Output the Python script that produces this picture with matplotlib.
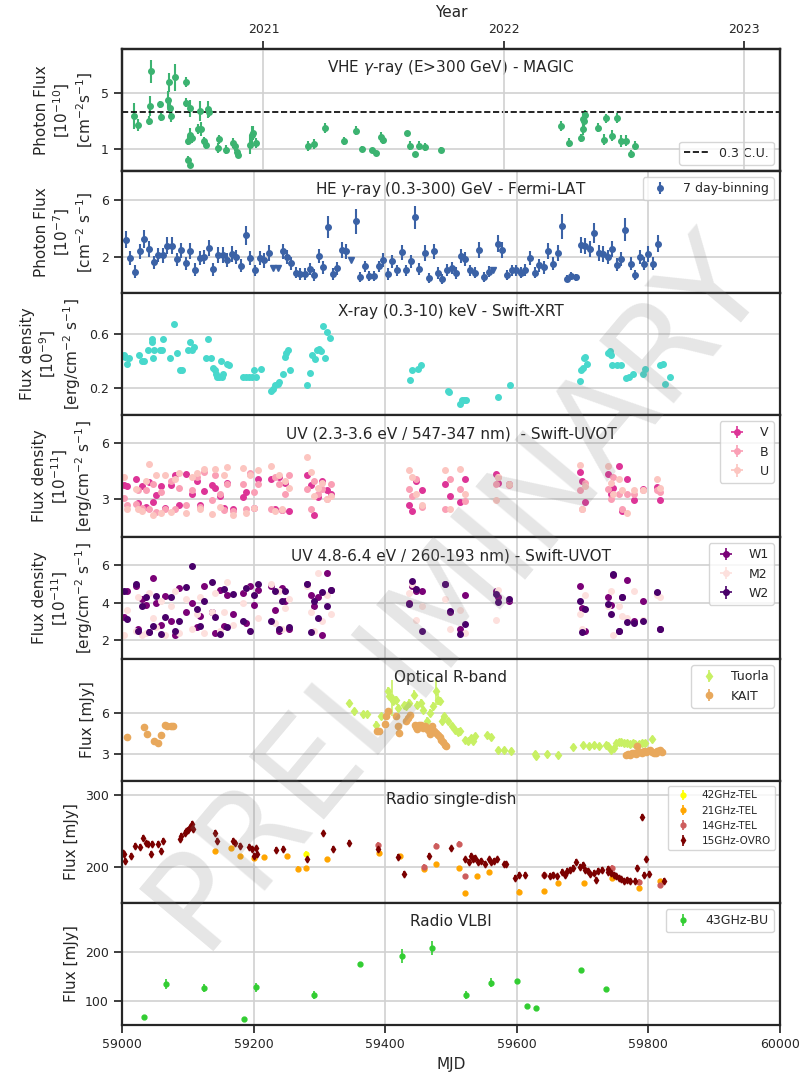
import matplotlib
matplotlib.use('Agg')
import matplotlib.pyplot as plt

# ---------------- DATA ----------------
# MAGIC (VHE)
magic_mjd = [59018, 59025, 59041, 59043, 59044, 59058, 59060, 59070, 59072, 59073,
             59074, 59080, 59097, 59098, 59104, 59100, 59101, 59103, 59103.5, 59107,
             59115, 59118, 59120, 59125, 59128, 59130, 59132, 59146, 59148, 59158,
             59169, 59172, 59175, 59177, 59195, 59197, 59199, 59204, 59282, 59292,
             59308, 59338, 59356, 59365, 59380, 59386, 59394, 59397, 59433, 59438,
             59446, 59452, 59461, 59485, 59667, 59679, 59698, 59700, 59701, 59702,
             59704, 59724, 59732, 59736, 59745, 59752, 59759, 59766, 59774, 59780]
magic_flux = [3.32, 2.68, 3.0, 4.04, 6.5, 4.16, 3.25, 4.5, 5.72, 3.92,
              3.32, 6.08, 5.77, 4.28, 3.87, 1.57, 0.21, -0.15, 1.96, 1.77,
              2.41, 3.68, 2.37, 1.53, 1.29, 3.8, 3.63, 1.05, 1.65, 0.93,
              1.41, 1.17, 0.76, 0.57, 1.29, 2.0, 2.13, 1.41, 1.17, 1.34,
              2.49, 1.53, 2.29, 1.0, 0.88, 0.67, 1.81, 1.62, 2.1, 1.22,
              0.63, 1.22, 1.1, 0.88, 2.63, 1.42, 1.74, 2.38, 3.11, 2.96,
              3.4, 2.5, 1.63, 3.16, 1.92, 3.16, 1.55, 1.55, 0.62, 1.22]
magic_err = [0.95, 0.45, 0.35, 0.7, 0.8, 0.25, 0.3, 0.6, 0.65, 0.45,
             0.45, 0.95, 0.35, 0.3, 0.6, 0.3, 0.25, 0.2, 0.5, 0.35,
             0.35, 0.7, 0.5, 0.3, 0.3, 0.6, 0.35, 0.35, 0.3, 0.35,
             0.35, 0.35, 0.35, 0.25, 0.7, 0.6, 0.5, 0.35, 0.35, 0.35,
             0.35, 0.3, 0.3, 0.15, 0.15, 0.15, 0.35, 0.3, 0.15, 0.35,
             0.15, 0.3, 0.3, 0.2, 0.35, 0.3, 0.3, 0.4, 0.4, 0.5,
             0.35, 0.35, 0.4, 0.3, 0.4, 0.35, 0.45, 0.4, 0.3, 0.35]
cu03_level = 3.6

# Fermi-LAT (HE)
fermi_mjd = [59006, 59012, 59020, 59027, 59034, 59041, 59048, 59055, 59062, 59069,
             59076, 59083, 59090, 59097, 59104, 59111, 59118, 59125, 59132, 59139,
             59146, 59153, 59160, 59167, 59174, 59181, 59188, 59195, 59202, 59209,
             59216, 59223,
             59244, 59250, 59257, 59264, 59271, 59278, 59285, 59292, 59299, 59306,
             59313, 59320, 59327, 59334, 59341,
             59355, 59362, 59369, 59376, 59383, 59390, 59397, 59404, 59411, 59418,
             59425, 59432, 59439, 59446, 59452, 59460, 59467, 59474, 59481, 59487,
             59494, 59501, 59508, 59515, 59522, 59529, 59536, 59543, 59550, 59557,
             59571, 59578, 59585, 59592, 59599, 59606, 59613, 59620, 59627, 59634,
             59641, 59648, 59655, 59662, 59668, 59676, 59683, 59690, 59697, 59703,
             59711, 59718, 59725, 59731, 59738, 59745, 59752, 59759, 59765, 59773,
             59780, 59787, 59793, 59800, 59807, 59814]
fermi_flux = [3.21, 1.93, 1.0, 2.4, 3.26, 2.56, 1.63, 2.16, 2.12, 2.79,
              2.79, 1.86, 2.47, 1.58, 2.44, 1.12, 1.93, 2.0, 2.63, 1.16,
              2.16, 2.16, 1.81, 2.23, 2.0, 1.4, 3.51, 1.93, 1.07, 1.93,
              1.77, 2.28,
              2.4, 2.0, 1.58, 0.93, 0.84, 0.84, 1.16, 0.77, 2.09, 1.3,
              4.09, 0.84, 1.23, 2.51, 2.4,
              4.49, 0.6, 1.35, 0.7, 0.7, 1.35, 1.81, 0.84, 1.7, 1.07,
              2.33, 1.07, 1.7, 4.77, 1.16, 2.28, 0.53, 2.4, 0.88, 0.5,
              1.12, 1.23, 0.88, 2.09, 1.86, 1.07, 0.93, 2.51, 0.6, 1.0,
              2.93, 2.51, 0.77, 1.07, 1.07, 0.93, 1.12, 1.93, 0.93, 1.42,
              1.28, 2.44, 1.53, 2.28, 4.14, 0.49, 0.7, 0.6, 2.86, 2.79,
              2.56, 3.67, 2.28, 2.23, 2.0, 2.56, 1.47, 1.86, 3.91, 1.53,
              0.77, 2.0, 1.53, 2.23, 1.53, 2.93]
fermi_err = [0.6, 0.5, 0.45, 0.55, 0.65, 0.55, 0.45, 0.5, 0.5, 0.6,
             0.6, 0.45, 0.55, 0.45, 0.55, 0.45, 0.5, 0.5, 0.55, 0.45,
             0.55, 0.55, 0.5, 0.55, 0.5, 0.45, 0.65, 0.5, 0.4, 0.5,
             0.5, 0.55,
             0.55, 0.5, 0.45, 0.4, 0.4, 0.4, 0.4, 0.4, 0.5, 0.45,
             0.75, 0.4, 0.45, 0.55, 0.55,
             0.85, 0.35, 0.4, 0.35, 0.35, 0.4, 0.5, 0.4, 0.45, 0.4,
             0.55, 0.4, 0.45, 0.8, 0.4, 0.55, 0.35, 0.55, 0.4, 0.35,
             0.4, 0.4, 0.4, 0.5, 0.5, 0.4, 0.4, 0.55, 0.35, 0.4,
             0.6, 0.55, 0.35, 0.4, 0.4, 0.4, 0.4, 0.5, 0.4, 0.45,
             0.45, 0.55, 0.45, 0.55, 0.85, 0.25, 0.3, 0.25, 0.55, 0.55,
             0.55, 0.7, 0.55, 0.55, 0.5, 0.55, 0.45, 0.5, 0.8, 0.45,
             0.35, 0.5, 0.45, 0.55, 0.45, 0.6]
fermi_ul_mjd = [59229, 59237, 59348, 59564]
fermi_ul_flux = [1.25, 1.25, 1.83, 1.1]

# Swift-XRT
xrt_mjd = [59003, 59005, 59008, 59010, 59026, 59031, 59033, 59039, 59045, 59046,
           59047, 59048, 59057, 59061, 59063, 59073, 59079, 59083, 59088, 59091,
           59101, 59104, 59107, 59110, 59128, 59130, 59136, 59139, 59141, 59143,
           59145, 59147, 59150, 59152, 59154, 59160, 59163, 59184, 59188, 59193,
           59197, 59200, 59203, 59211, 59226, 59229, 59233, 59237, 59239, 59245,
           59247, 59249, 59252, 59255, 59281, 59285, 59289, 59293, 59297, 59300,
           59303, 59306, 59309, 59312, 59316, 59438, 59441, 59450, 59454, 59495,
           59497, 59514, 59516, 59520, 59523, 59572, 59590, 59696, 59698, 59700,
           59702, 59704, 59706, 59739, 59741, 59743, 59745, 59752, 59759, 59766,
           59771, 59777, 59792, 59795, 59818, 59822, 59825, 59833]
xrt_flux = [0.44, 0.43, 0.38, 0.42, 0.44, 0.40, 0.40, 0.48, 0.54, 0.56,
            0.42, 0.48, 0.48, 0.48, 0.56, 0.42, 0.67, 0.46, 0.33, 0.33,
            0.48, 0.54, 0.48, 0.50, 0.42, 0.56, 0.42, 0.35, 0.33, 0.30,
            0.28, 0.28, 0.40, 0.28, 0.30, 0.38, 0.37, 0.28, 0.28, 0.28,
            0.28, 0.33, 0.28, 0.34, 0.18, 0.19, 0.22, 0.23, 0.24, 0.30,
            0.43, 0.46, 0.48, 0.33, 0.22, 0.31, 0.44, 0.41, 0.48, 0.49,
            0.47, 0.66, 0.42, 0.61, 0.57, 0.26, 0.33, 0.34, 0.37, 0.18,
            0.17, 0.08, 0.11, 0.11, 0.11, 0.13, 0.22, 0.25, 0.33, 0.35,
            0.42, 0.43, 0.38, 0.46, 0.47, 0.44, 0.37, 0.37, 0.37, 0.27,
            0.28, 0.30, 0.30, 0.34, 0.37, 0.38, 0.23, 0.28]

# Swift-UVOT epochs
uvot_mjd = [59003, 59008, 59021, 59024, 59030, 59036, 59041, 59047, 59052, 59059,
            59065, 59074, 59081, 59087, 59098, 59106, 59114, 59119, 59125, 59137,
            59141, 59149, 59155, 59160, 59168, 59184, 59189, 59195, 59201, 59207,
            59226, 59233, 59238, 59243, 59248, 59254, 59281, 59287, 59292, 59298,
            59304, 59312, 59318, 59436, 59441, 59447, 59456, 59491, 59498, 59514,
            59521, 59568, 59572, 59588, 59696, 59699, 59703, 59739, 59743, 59746,
            59755, 59760, 59767, 59778, 59792, 59813, 59818]
V_flux = [3.75, 3.7, 4.1, 2.8, 3.7, 2.6, 3.92, 2.85, 3.25, 3.7,
          2.55, 3.75, 4.3, 2.7, 4.37, 3.3, 4.0, 2.72, 3.45, 3.75,
          3.6, 3.2, 2.54, 3.9, 2.5, 3.12, 3.39, 4.37, 2.55, 4.1,
          4.1, 2.5, 4.2, 2.45, 3.9, 2.4, 4.28, 3.75, 2.18, 3.12,
          4.0, 3.5, 3.3, 2.68, 2.41, 4.01, 3.5, 3.83, 3.21, 2.86,
          4.1, 4.37, 3.9, 3.83, 4.46, 4.01, 2.86, 4.37, 3.3, 3.6,
          4.81, 2.41, 4.1, 2.95, 3.55, 3.66, 2.95]
B_flux = [3.1, 2.7, 2.77, 3.5, 2.54, 3.48, 2.5, 3.8, 2.33, 3.4,
          2.5, 4.0, 2.5, 3.6, 2.7, 3.48, 4.2, 2.6, 4.45, 2.95,
          4.3, 3.3, 2.45, 3.83, 2.4, 3.83, 2.5, 4.4, 3.4, 3.83,
          2.5, 4.2, 3.83, 2.45, 3.3, 4.3, 3.57, 2.5, 4.0, 3.3,
          3.57, 3.0, 3.8, 3.57, 3.2, 4.1, 2.6, 2.5, 4.1, 3.57,
          2.9, 3.83, 4.2, 3.75, 3.48, 2.5, 3.9, 3.57, 3.0, 4.2,
          3.3, 2.5, 3.3, 3.3, 3.48, 3.48, 3.4]
U_flux = [4.2, 2.5, 3.57, 2.5, 2.41, 4.0, 4.9, 2.15, 4.31, 2.3,
          4.28, 2.33, 4.1, 4.4, 2.3, 4.2, 4.4, 2.5, 4.63, 2.25,
          4.6, 2.6, 4.3, 4.72, 2.2, 4.67, 2.3, 4.28, 2.55, 4.55,
          4.78, 2.4, 4.3, 2.5, 4.0, 3.6, 5.25, 4.45, 3.2, 3.6,
          3.9, 3.0, 3.2, 4.55, 4.19, 3.3, 2.7, 4.55, 2.5, 4.63,
          3.3, 2.95, 4.2, 3.8, 4.85, 2.5, 3.7, 4.81, 3.9, 3.3,
          4.1, 3.48, 2.3, 3.48, 3.48, 4.1, 3.6]
W1_flux = [3.22, 4.6, 4.9, 2.6, 4.2, 3.9, 2.45, 5.3, 4.0, 2.8,
           4.35, 3.0, 2.3, 4.8, 3.5, 4.0, 2.7, 3.3, 4.9, 3.5,
           2.4, 4.7, 2.75, 4.4, 3.4, 4.5, 2.9, 4.9, 3.9, 4.7,
           4.9, 3.6, 2.5, 4.8, 4.1, 2.6, 5.0, 4.4, 3.8, 4.3,
           2.3, 5.6, 4.7, 4.0, 4.9, 4.6, 4.6, 5.0, 3.5, 2.6,
           4.4, 4.6, 4.3, 4.1, 4.9, 3.7, 2.5, 4.3, 3.9, 5.5,
           2.5, 4.3, 5.2, 3.0, 4.1, 4.5, 2.6]
M2_flux = [2.3, 3.6, 2.5, 4.3, 2.3, 2.4, 4.5, 3.2, 2.7, 4.1,
           2.3, 3.8, 4.6, 2.4, 4.2, 2.6, 3.4, 4.3, 2.4, 3.5,
           4.5, 2.5, 3.5, 5.1, 2.8, 4.0, 4.8, 2.5, 4.4, 3.2,
           5.0, 2.9, 4.6, 2.6, 3.7, 4.2, 4.9, 3.5, 2.5, 5.6,
           3.0, 4.4, 3.4, 4.5, 5.0, 3.1, 3.8, 4.2, 2.6, 3.6,
           2.4, 3.1, 4.7, 4.2, 3.4, 2.6, 4.4, 3.8, 4.6, 2.3,
           3.8, 3.3, 3.2, 4.6, 3.1, 4.4, 4.3]
W2_flux = [4.64, 3.13, 5.0, 2.51, 3.84, 4.28, 2.42, 2.78, 4.37, 2.34,
           3.22, 4.28, 2.51, 3.04, 4.85, 5.96, 3.66, 2.78, 4.1, 5.08,
           3.22, 2.34, 4.73, 2.69, 4.46, 3.04, 4.81, 2.51, 4.4, 5.0,
           3.04, 4.6, 2.6, 4.1, 4.6, 2.7, 5.0, 2.42, 4.1, 3.2,
           4.55, 3.8, 4.7, 3.93, 5.17, 4.73, 2.51, 5.0, 3.58, 2.34,
           2.87, 4.46, 4.02, 4.2, 4.1, 2.42, 3.66, 3.93, 3.4, 5.52,
           2.51, 4.28, 2.96, 2.9, 3.0, 4.55, 2.6]

# Optical R-band
tuorla_mjd = [59345, 59353, 59366, 59372, 59386, 59394, 59404, 59406, 59410, 59412,
              59416, 59419, 59428, 59432, 59436, 59444, 59448, 59454, 59458, 59463,
              59468, 59472, 59477, 59481, 59484, 59487, 59490, 59496, 59501, 59506,
              59510, 59514, 59522, 59526, 59530, 59534, 59537, 59555, 59561, 59572,
              59580, 59591, 59627, 59629, 59646, 59662, 59685, 59700, 59710, 59717,
              59725, 59735, 59739, 59743, 59747, 59751, 59755, 59759, 59763, 59768,
              59772, 59776, 59780, 59786, 59790, 59795, 59805]
tuorla_flux = [6.76, 6.15, 5.95, 5.95, 5.16, 5.78, 7.62, 7.25, 7.13, 6.88,
               7.0, 6.39, 6.64, 6.5, 6.76, 7.38, 6.64, 6.76, 6.27, 5.41,
               6.02, 6.5, 7.62, 7.0, 6.88, 5.41, 5.78, 5.41, 5.04, 4.8,
               4.62, 4.72, 4.06, 3.93, 4.18, 3.98, 4.3, 4.43, 4.23, 3.32,
               3.32, 3.25, 3.0, 2.88, 3.0, 2.95, 3.49, 3.69, 3.57, 3.69,
               3.57, 3.69, 3.57, 3.32, 3.44, 3.81, 3.89, 3.89, 3.81, 3.81,
               3.74, 3.81, 3.74, 3.74, 3.81, 3.81, 4.13]
tuorla_err = [0.2, 0.2, 0.2, 0.2, 0.3, 0.2, 0.3, 0.3, 1.3, 0.3,
              0.3, 0.3, 0.2, 0.2, 0.3, 0.3, 0.3, 0.3, 0.3, 0.3,
              0.3, 0.3, 1.0, 0.4, 0.3, 0.3, 0.2, 0.2, 0.2, 0.2,
              0.2, 0.2, 0.2, 0.2, 0.2, 0.2, 0.2, 0.2, 0.2, 0.2,
              0.2, 0.2, 0.2, 0.2, 0.2, 0.2, 0.2, 0.2, 0.2, 0.2,
              0.2, 0.2, 0.2, 0.2, 0.2, 0.2, 0.2, 0.2, 0.2, 0.2,
              0.2, 0.2, 0.2, 0.2, 0.2, 0.2, 0.2]
kait_mjd = [59007, 59034, 59038, 59048, 59054, 59059, 59065, 59069, 59074, 59078,
            59388, 59390, 59399, 59401, 59404, 59417, 59419, 59421, 59432, 59435,
            59438, 59445, 59447, 59449, 59451, 59453, 59455, 59458, 59461, 59465,
            59468, 59471, 59474, 59477, 59480, 59483, 59485, 59488, 59491, 59493,
            59766, 59769, 59772, 59775, 59778, 59781, 59784, 59787, 59790, 59793,
            59796, 59799, 59802, 59805, 59808, 59811, 59813, 59815, 59817, 59820,
            59783]
kait_flux = [4.23, 5.0, 4.48, 3.93, 3.81, 4.38, 5.11, 5.04, 5.04, 5.04,
             4.67, 4.72, 5.24, 5.78, 6.2, 5.83, 5.09, 4.55, 5.46, 5.66,
             5.9, 5.16, 4.97, 4.87, 5.16, 5.04, 5.16, 4.92, 5.04, 4.8,
             4.48, 5.04, 4.72, 4.55, 4.43, 4.23, 4.06, 3.89, 3.69, 3.6,
             2.9, 3.0, 2.95, 3.05, 3.07, 3.0, 3.15, 3.12, 3.07, 3.2,
             3.15, 3.2, 3.32, 3.15, 3.07, 3.1, 3.2, 3.25, 3.3, 3.15,
             3.6]

# Radio single-dish
ovro_mjd = [59001, 59003, 59005, 59013, 59020, 59027, 59032, 59036, 59040, 59044,
            59046, 59055, 59059, 59063, 59088, 59090, 59095, 59097, 59100, 59104,
            59106, 59108, 59142, 59144, 59168, 59172, 59180, 59193, 59198, 59201,
            59203, 59205, 59234, 59244, 59281, 59306, 59321, 59345, 59389, 59419,
            59428, 59466, 59500, 59521, 59528, 59531, 59534, 59537, 59541, 59545,
            59551, 59557, 59561, 59565, 59570, 59580, 59583, 59598, 59603, 59613,
            59642, 59650, 59655, 59661, 59669, 59673, 59677, 59681, 59685, 59690,
            59696, 59700, 59704, 59708, 59712, 59717, 59720, 59724, 59730, 59738,
            59739, 59743, 59747, 59751, 59755, 59759, 59763, 59767, 59772, 59779,
            59782, 59790, 59794, 59797, 59801, 59823]
ovro_flux = [220, 218, 209, 215.5, 229.6, 228, 241, 233, 232, 218,
             232, 232, 222.5, 236.6, 239, 243.7, 248, 249.8, 251.6, 255.4,
             260, 253, 248, 236.6, 236.6, 234, 229.6, 228, 225, 215.5,
             226, 218, 223.5, 225, 210.8, 247, 225, 234, 225, 214,
             191, 215.5, 226, 210.8, 207.5, 215.5, 210.8, 213, 207.5, 209,
             204.7, 210.8, 207.5, 209, 210.8, 203.8, 204.7, 185, 189.7, 188.7,
             189.7, 188, 189.7, 187, 193.4, 189.7, 194.4, 196.7, 199, 207.5,
             200, 202.8, 196.7, 194.4, 190.6, 192, 182.6, 194.4, 196.7, 198,
             193.4, 192, 189.7, 187, 185, 184, 181, 182.6, 181, 180.3,
             199, 269.5, 189.7, 210.8, 190.6, 181]
tel21_mjd = [59141, 59166, 59180, 59201, 59216, 59250, 59267, 59279, 59312, 59390,
             59423, 59459, 59477, 59512, 59522, 59540, 59557, 59603, 59642, 59662,
             59702, 59745, 59786, 59818]
tel21_flux = [222.5, 227, 215.5, 213, 214, 215.5, 198, 199, 210.8, 220,
              215.5, 198, 203.8, 199, 164, 187, 193.4, 166, 167, 178,
              178, 185, 171, 180]
tel14_mjd = [59389, 59459, 59477, 59512, 59522, 59642, 59745, 59786, 59818]
tel14_flux = [231, 200, 229.6, 232, 187, 189.7, 199, 179, 174.6]
tel42_mjd = [59279]
tel42_flux = [219]

# Radio VLBI
bu_mjd = [59034, 59067, 59125, 59186, 59203, 59292, 59362, 59425, 59471, 59523,
          59561, 59601, 59615, 59629, 59698, 59735]
bu_flux = [66, 134, 126, 61.5, 127, 112, 176, 192, 208, 112,
           137, 140.5, 88.5, 85, 163.5, 123.6]
bu_err = [2, 10, 9, 2, 9, 8, 3, 14, 14, 8, 9, 3, 3, 3, 3, 3]

year_ticks_mjd = [59215, 59580, 59945]
year_labels = ['2021', '2022', '2023']

# ---------------- STYLE ----------------
plt.rcParams.update({
    'font.family': ['DejaVu Sans'],
    'axes.edgecolor': '0.15',
    'axes.linewidth': 1.6,
    'axes.labelcolor': '0.15',
    'text.color': '0.15',
    'xtick.color': '0.15',
    'ytick.color': '0.15',
    'xtick.labelsize': 9,
    'ytick.labelsize': 9,
    'xtick.major.size': 6,
    'ytick.major.size': 6,
    'xtick.major.width': 1.25,
    'ytick.major.width': 1.25,
    'grid.color': '0.82',
    'grid.linewidth': 1.2,
    'axes.labelsize': 11,
    'legend.fontsize': 9,
    'legend.edgecolor': '0.8',
})

fig, axes = plt.subplots(8, 1, sharex=True, figsize=(8, 10.8), dpi=100)
fig.subplots_adjust(left=0.1525, right=0.975, top=0.9546, bottom=0.0509, hspace=0)


def panel_title(ax, s):
    ax.text(0.5, 0.845, s, transform=ax.transAxes, ha='center', va='center',
            fontsize=11, color='0.15', zorder=6)


for ax in axes:
    ax.set_xlim(59000, 60000)
    ax.set_axisbelow(True)

# Panel 1: MAGIC
ax = axes[0]
c_magic = '#3cb371'
ax.errorbar(magic_mjd, magic_flux, yerr=magic_err, fmt='o', color=c_magic,
            ms=4, elinewidth=1.5, capsize=0)
ax.axhline(cu03_level, ls='--', color='k', lw=1.2, label='0.3 C.U.')
ax.set_ylim(-0.6, 8.1)
ax.set_yticks([1, 5])
ax.grid(axis='y')
ax.set_ylabel('Photon Flux\n[$10^{-10}$]\n[cm$^{-2}$s$^{-1}$]')
ax.legend(loc='lower right')
panel_title(ax, r'VHE $\gamma$-ray (E>300 GeV) - MAGIC')
top = ax.twiny()
top.set_xlim(59000, 60000)
top.set_xticks(year_ticks_mjd)
top.set_xticklabels(year_labels)
top.set_xlabel('Year', fontsize=11)
top.grid(axis='x')
top.set_axisbelow(True)

# Panel 2: Fermi
ax = axes[1]
c_fermi = '#3b62a6'
ax.errorbar(fermi_mjd, fermi_flux, yerr=fermi_err, fmt='o', color=c_fermi,
            ms=4, elinewidth=1.5, capsize=0, label='7 day-binning')
ax.plot(fermi_ul_mjd, fermi_ul_flux, 'v', color=c_fermi, ms=5, ls='none')
ax.set_ylim(-0.5, 8)
ax.set_yticks([2, 6])
ax.grid(True)
ax.set_ylabel('Photon Flux\n[$10^{-7}$]\n[cm$^{-2}$ s$^{-1}$]')
ax.legend(loc='upper right')
panel_title(ax, r'HE $\gamma$-ray (0.3-300) GeV - Fermi-LAT')

# Panel 3: XRT
ax = axes[2]
ax.plot(xrt_mjd, xrt_flux, 'o', color='#48d8cc', ms=4, ls='none')
ax.set_ylim(0, 0.9)
ax.set_yticks([0.2, 0.6])
ax.grid(True)
ax.set_ylabel('Flux density\n[$10^{-9}$]\n[erg/cm$^{-2}$ s$^{-1}$]')
panel_title(ax, 'X-ray (0.3-10) keV - Swift-XRT')

# Panel 4: UVOT V B U
ax = axes[3]
for vals, col, lab in [(V_flux, '#dd3497', 'V'), (B_flux, '#fa9fb5', 'B'),
                       (U_flux, '#fcc5c0', 'U')]:
    ax.errorbar(uvot_mjd, vals, yerr=0.1, xerr=0.8, fmt='o', color=col, ms=4,
                elinewidth=1.2, capsize=0, label=lab)
ax.set_ylim(1, 7.5)
ax.set_yticks([3, 6])
ax.grid(True)
ax.set_ylabel('Flux density\n[$10^{-11}$]\n[erg/cm$^{-2}$ s$^{-1}$]')
ax.legend(loc='upper right')
panel_title(ax, 'UV (2.3-3.6 eV / 547-347 nm)  - Swift-UVOT')

# Panel 5: UVOT W1 M2 W2
ax = axes[4]
for vals, col, lab in [(W1_flux, '#7a0177', 'W1'), (M2_flux, '#fde0dd', 'M2'),
                       (W2_flux, '#49006a', 'W2')]:
    ax.errorbar(uvot_mjd, vals, yerr=0.1, xerr=0.8, fmt='o', color=col, ms=4,
                elinewidth=1.2, capsize=0, label=lab)
ax.set_ylim(1, 7.5)
ax.set_yticks([2, 4, 6])
ax.grid(True)
ax.set_ylabel('Flux density\n[$10^{-11}$]\n[erg/cm$^{-2}$ s$^{-1}$]')
ax.legend(loc='upper right')
panel_title(ax, 'UV 4.8-6.4 eV / 260-193 nm) - Swift-UVOT')

# Panel 6: Optical
ax = axes[5]
ax.errorbar(tuorla_mjd, tuorla_flux, yerr=tuorla_err, fmt='d', color='#c8f064',
            ms=4.5, elinewidth=1.2, capsize=0, label='Tuorla')
ax.errorbar(kait_mjd, kait_flux, yerr=0.12, fmt='o', color='#e8a85c',
            ms=4.5, elinewidth=1.2, capsize=0, label='KAIT')
ax.set_ylim(1, 10)
ax.set_yticks([3, 6])
ax.grid(True)
ax.set_ylabel('Flux [mJy]')
ax.legend(loc='upper right')
panel_title(ax, 'Optical R-band')

# Panel 7: Radio single-dish
ax = axes[6]
ax.errorbar(tel42_mjd, tel42_flux, yerr=4, fmt='o', color='#ffff00', ms=3.5,
            elinewidth=1.2, capsize=0, label='42GHz-TEL')
ax.errorbar(tel21_mjd, tel21_flux, yerr=3, fmt='o', color='#ffa500', ms=3.5,
            elinewidth=1.2, capsize=0, label='21GHz-TEL')
ax.errorbar(tel14_mjd, tel14_flux, yerr=4, fmt='o', color='#cd5c5c', ms=3.5,
            elinewidth=1.2, capsize=0, label='14GHz-TEL')
ax.errorbar(ovro_mjd, ovro_flux, yerr=4, fmt='d', color='#7b0000', ms=3.5,
            elinewidth=1.2, capsize=0, label='15GHz-OVRO')
ax.set_ylim(150, 320)
ax.set_yticks([200, 300])
ax.grid(True)
ax.set_ylabel('Flux [mJy]')
ax.legend(loc='upper right', fontsize=7.5)
panel_title(ax, 'Radio single-dish')

# Panel 8: VLBI
ax = axes[7]
ax.errorbar(bu_mjd, bu_flux, yerr=bu_err, fmt='o', color='#32cd32', ms=3.5,
            elinewidth=1.2, capsize=0, label='43GHz-BU')
ax.set_ylim(50, 300)
ax.set_yticks([100, 200])
ax.grid(True)
ax.set_ylabel('Flux [mJy]')
ax.legend(loc='upper right')
panel_title(ax, 'Radio VLBI')
ax.set_xticks([59000, 59200, 59400, 59600, 59800, 60000])
ax.set_xlabel('MJD', fontsize=11)

fig.text(0.57, 0.455, 'PRELIMINARY', rotation=50, fontsize=96, color='0.5',
         alpha=0.2, ha='center', va='center', rotation_mode='anchor', zorder=20)

fig.savefig('out.png', dpi=100)
